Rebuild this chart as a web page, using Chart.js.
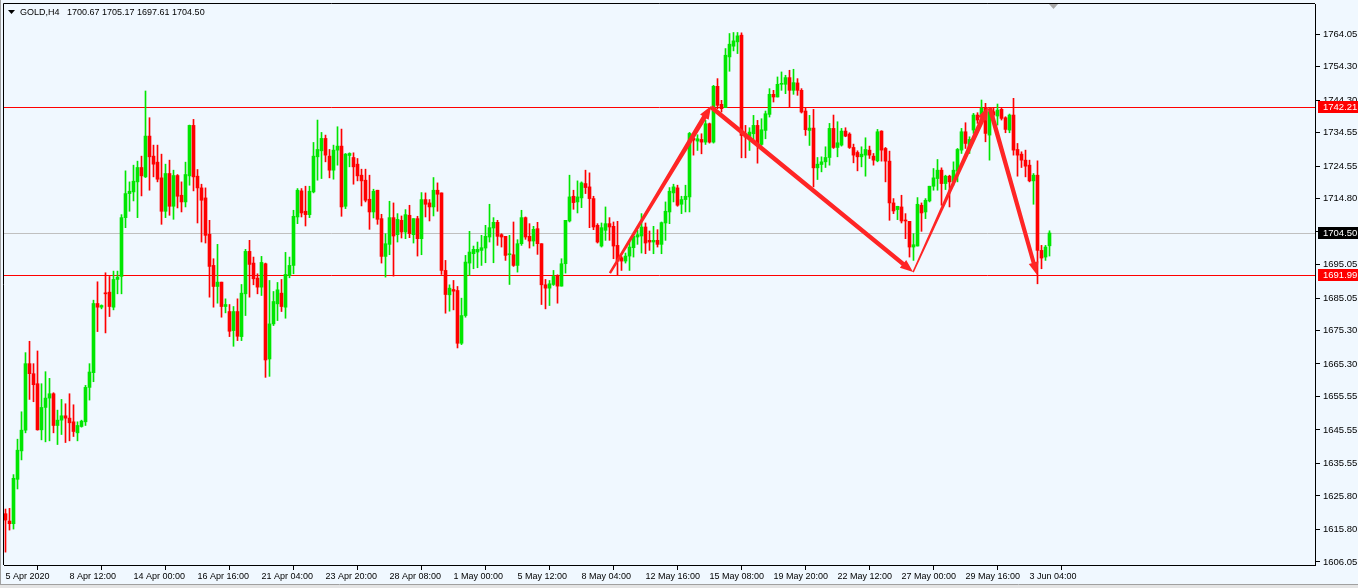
<!DOCTYPE html>
<html>
<head>
<meta charset="utf-8">
<title>GOLD,H4</title>
<script src="https://cdn.jsdelivr.net/npm/chart.js@4.4.1/dist/chart.umd.min.js"></script>
<style>
  html, body { margin: 0; padding: 0; background: #f0f8ff; overflow: hidden; }
  canvas { display: block; }
</style>
</head>
<body>
<canvas id="gold_chart" width="1358" height="588"></canvas>
<script>
// H4 candles, 6 Apr - 3 Jun 2020
const opens = [
  1620.5,1618.3,1617.5,1630.8,1639.3,1645.5,1665.4,1662.4,1659.4,1645.6,
  1652.3,1655.1,1656.4,1646.9,1648.5,1649.8,1649.1,1648.0,1644.7,1646.6,
  1648.0,1658.3,1662.7,1683.4,1682.3,1686.6,1686.8,1682.3,1690.6,1691.5,
  1709.1,1716.3,1716.8,1719.8,1724.1,1721.3,1733.5,1727.5,1725.7,1721.0,
  1711.0,1722.3,1712.5,1721.7,1715.8,1713.8,1721.6,1736.7,1721.5,1718.0,
  1715.0,1704.1,1694.8,1688.5,1689.8,1682.5,1681.0,1675.3,1681.0,1673.5,
  1686.3,1699.0,1695.5,1691.0,1688.3,1695.3,1666.8,1677.3,1683.3,1686.5,
  1682.3,1691.8,1694.8,1709.3,1717.1,1711.0,1710.0,1716.8,1727.3,1729.1,
  1732.8,1727.5,1723.3,1729.3,1730.5,1712.5,1727.7,1727.1,1725.1,1721.8,
  1720.3,1714.6,1710.8,1717.3,1708.8,1697.5,1701.1,1709.1,1704.0,1708.3,
  1704.8,1709.8,1704.0,1708.8,1702.8,1714.5,1713.5,1712.3,1717.3,1716.5,
  1693.3,1686.0,1687.6,1687.3,1671.5,1679.8,1695.5,1698.3,1698.8,1699.3,
  1700.0,1703.3,1706.0,1707.7,1704.0,1703.5,1698.0,1698.0,1694.8,1701.3,
  1709.1,1703.5,1702.1,1705.8,1701.3,1689.0,1688.0,1689.1,1691.6,1688.6,
  1695.3,1708.1,1715.5,1713.8,1715.0,1719.3,1718.3,1714.8,1706.8,1700.6,
  1705.3,1707.3,1706.5,1700.8,1697.1,1696.1,1697.6,1700.1,1703.3,1703.6,
  1706.3,1702.3,1701.8,1702.3,1701.1,1707.5,1710.8,1716.5,1718.0,1713.1,
  1714.5,1715.3,1732.8,1732.0,1732.5,1731.7,1737.2,1731.7,1748.4,1743.0,
  1742.0,1757.2,1760.4,1761.7,1763.7,1734.2,1732.7,1734.2,1736.7,1731.0,
  1735.2,1740.0,1746.0,1745.2,1749.0,1749.0,1751.0,1747.2,1749.4,1747.2,
  1741.0,1735.2,1735.9,1724.0,1725.0,1725.8,1727.1,1735.8,1730.1,1730.8,
  1735.0,1734.1,1730.1,1728.6,1727.3,1727.8,1729.3,1727.5,1726.1,1735.0,
  1729.8,1726.0,1713.5,1711.5,1712.3,1708.3,1708.0,1700.3,1700.6,1712.8,
  1710.8,1714.1,1718.5,1720.8,1723.3,1719.3,1721.5,1719.8,1723.0,1729.3,
  1734.8,1730.3,1735.3,1739.8,1739.8,1741.8,1733.8,1740.8,1739.5,1741.5,
  1739.0,1735.3,1739.8,1729.5,1728.1,1726.3,1724.8,1720.1,1721.8,1699.3,
  1697.3,1700.67
];
const highs = [
  1621.9,1622.1,1632.2,1642.8,1651.0,1668.7,1672.1,1665.4,1669.2,1659.4,
  1663.0,1661.0,1656.7,1651.5,1654.7,1653.4,1656.4,1653.1,1648.0,1648.5,
  1658.9,1665.4,1684.4,1689.9,1683.0,1692.6,1691.5,1693.1,1693.1,1710.0,
  1723.1,1719.8,1724.8,1726.0,1727.5,1747.0,1739.0,1730.8,1730.8,1728.1,
  1725.1,1726.3,1723.3,1722.0,1719.8,1725.7,1736.8,1738.5,1723.5,1719.1,
  1718.0,1708.3,1696.8,1701.1,1689.8,1684.8,1683.1,1682.5,1684.8,1689.1,
  1699.6,1702.3,1697.3,1692.3,1697.5,1695.5,1690.3,1687.0,1689.7,1690.6,
  1698.7,1697.3,1711.3,1717.8,1717.8,1718.5,1718.5,1731.6,1738.3,1734.6,
  1733.8,1729.5,1730.8,1736.3,1735.6,1728.3,1728.5,1728.5,1726.8,1723.6,
  1723.6,1721.8,1717.6,1717.3,1710.1,1704.3,1714.0,1713.5,1710.3,1709.6,
  1711.5,1712.8,1708.8,1709.5,1716.6,1716.5,1714.5,1721.1,1719.5,1716.5,
  1696.3,1689.0,1690.3,1688.5,1685.0,1697.8,1705.0,1700.6,1701.8,1703.8,
  1706.8,1713.1,1709.1,1708.3,1704.3,1703.5,1703.8,1707.8,1702.5,1711.3,
  1709.3,1707.3,1706.5,1707.7,1701.3,1690.6,1690.3,1693.3,1692.0,1696.8,
  1708.3,1721.8,1717.3,1720.1,1719.8,1723.3,1722.5,1715.5,1707.3,1707.5,
  1712.3,1709.1,1707.8,1708.0,1697.5,1698.5,1701.8,1704.5,1705.3,1710.3,
  1707.5,1705.1,1706.5,1705.5,1707.8,1713.8,1718.1,1719.1,1718.8,1715.5,
  1718.8,1734.6,1734.1,1733.9,1734.2,1738.2,1737.4,1748.7,1750.7,1744.2,
  1759.7,1764.2,1764.5,1764.5,1764.4,1736.7,1736.0,1739.7,1738.2,1738.7,
  1741.0,1747.7,1747.2,1751.2,1752.7,1751.7,1753.2,1753.5,1750.7,1747.7,
  1742.0,1739.7,1741.5,1727.1,1727.3,1730.3,1737.3,1739.8,1737.8,1735.8,
  1736.0,1734.5,1731.1,1729.1,1730.3,1733.0,1730.5,1728.3,1735.5,1735.1,
  1730.1,1729.0,1714.8,1712.5,1715.8,1710.3,1708.0,1704.3,1715.1,1713.5,
  1714.8,1718.5,1723.8,1726.5,1724.0,1721.8,1721.8,1725.8,1729.8,1735.8,
  1737.5,1733.3,1740.3,1740.5,1744.3,1743.3,1741.8,1741.8,1743.1,1741.8,
  1739.3,1740.1,1744.8,1731.3,1728.8,1729.3,1726.3,1722.3,1726.1,1700.8,
  1700.8,1705.17
];
const lows = [
  1609.0,1615.6,1615.9,1627.9,1636.6,1644.7,1654.7,1654.0,1645.5,1642.6,
  1642.0,1642.3,1644.7,1641.2,1644.2,1641.8,1642.3,1643.6,1642.3,1646.4,
  1646.9,1654.5,1660.0,1675.0,1681.8,1674.6,1679.5,1681.5,1686.3,1686.3,
  1706.1,1711.0,1714.1,1709.1,1715.6,1721.1,1717.3,1721.3,1719.8,1707.1,
  1709.1,1709.8,1708.6,1712.0,1710.8,1712.3,1718.8,1717.1,1707.5,1701.8,
  1701.5,1685.3,1682.3,1683.5,1679.3,1680.6,1673.5,1670.6,1672.3,1672.3,
  1679.8,1685.3,1689.0,1686.3,1685.8,1661.3,1661.6,1676.8,1678.3,1681.0,
  1679.0,1691.1,1692.3,1707.3,1709.3,1706.6,1709.1,1716.5,1720.3,1720.8,
  1725.8,1721.0,1720.6,1724.8,1709.5,1711.8,1724.3,1719.1,1720.1,1712.6,
  1713.8,1705.6,1709.0,1707.1,1695.5,1691.3,1698.0,1691.6,1701.8,1703.0,
  1702.8,1703.1,1701.5,1697.6,1698.0,1709.3,1708.1,1709.6,1711.0,1692.1,
  1680.5,1681.1,1681.5,1670.1,1671.1,1679.3,1691.8,1693.8,1694.1,1694.8,
  1695.6,1701.8,1695.6,1700.8,1700.3,1696.3,1689.1,1694.5,1692.8,1700.8,
  1702.6,1700.0,1700.6,1698.1,1683.1,1681.8,1682.8,1688.8,1683.5,1688.6,
  1692.5,1707.8,1711.6,1710.5,1712.1,1716.3,1706.1,1705.5,1701.5,1700.3,
  1702.3,1702.3,1696.8,1691.8,1693.3,1695.5,1693.3,1697.3,1701.1,1698.5,
  1698.3,1699.3,1698.3,1700.3,1698.3,1702.3,1707.3,1713.8,1712.5,1710.3,
  1710.8,1710.8,1727.8,1729.2,1728.2,1731.0,1731.4,1731.4,1741.7,1740.7,
  1742.0,1752.9,1759.0,1758.2,1727.0,1727.0,1729.2,1732.2,1725.4,1730.7,
  1732.7,1739.2,1743.7,1745.2,1747.2,1746.2,1742.0,1746.0,1745.7,1740.4,
  1733.7,1730.7,1718.3,1720.5,1722.8,1724.1,1724.8,1729.8,1727.3,1730.5,
  1733.3,1729.8,1725.5,1723.1,1724.3,1721.5,1726.8,1724.8,1725.8,1726.0,
  1719.8,1708.3,1710.3,1708.5,1707.5,1702.8,1697.3,1696.3,1700.6,1705.0,
  1708.8,1713.8,1717.3,1717.3,1712.8,1717.5,1712.3,1718.8,1719.8,1728.3,
  1729.8,1728.3,1734.3,1737.3,1739.3,1731.8,1726.3,1739.3,1736.8,1738.3,
  1734.5,1734.5,1727.8,1721.5,1724.1,1721.3,1719.8,1713.1,1689.3,1693.8,
  1696.3,1697.61
];
const closes = [
  1618.6,1617.5,1631.1,1639.5,1645.5,1665.4,1662.4,1659.1,1645.6,1652.3,
  1655.1,1656.4,1646.9,1648.5,1649.8,1649.1,1647.7,1645.1,1646.9,1648.2,
  1658.3,1662.9,1683.4,1682.3,1682.8,1686.3,1682.5,1690.6,1691.3,1709.1,
  1716.3,1717.0,1720.0,1724.1,1721.6,1733.5,1727.3,1725.1,1720.6,1711.0,
  1722.3,1712.5,1721.7,1715.5,1713.8,1722.0,1736.7,1721.3,1718.0,1714.3,
  1703.8,1694.5,1688.5,1689.8,1682.5,1683.1,1675.1,1681.0,1673.6,1686.5,
  1699.0,1695.1,1690.8,1688.3,1695.7,1666.5,1677.3,1684.0,1687.5,1682.5,
  1692.1,1694.8,1709.5,1717.3,1710.5,1710.0,1717.0,1727.5,1729.5,1732.8,
  1727.8,1723.3,1729.3,1730.5,1712.3,1728.1,1728.3,1724.3,1721.6,1720.1,
  1714.3,1710.8,1717.0,1708.6,1697.5,1701.3,1709.1,1703.6,1708.6,1704.8,
  1710.0,1704.3,1708.8,1702.8,1714.5,1713.1,1712.3,1717.3,1716.1,1693.3,
  1686.1,1688.0,1687.1,1671.5,1679.8,1695.8,1698.8,1699.6,1699.6,1700.1,
  1703.5,1706.1,1707.7,1703.5,1703.3,1697.8,1698.1,1694.8,1701.3,1709.1,
  1703.3,1702.1,1705.6,1701.3,1689.0,1688.0,1689.3,1691.5,1688.6,1695.3,
  1708.3,1715.3,1713.6,1715.3,1719.5,1718.1,1714.8,1706.3,1701.8,1706.1,
  1707.3,1706.3,1700.6,1696.1,1696.1,1697.6,1700.3,1703.5,1704.0,1706.3,
  1701.5,1701.8,1702.3,1701.1,1707.6,1711.0,1717.0,1718.3,1712.8,1714.5,
  1715.5,1734.3,1732.3,1732.7,1731.7,1737.2,1731.7,1748.4,1742.7,1741.7,
  1757.7,1761.0,1762.0,1763.5,1733.7,1733.2,1734.7,1736.7,1731.2,1735.4,
  1740.2,1746.0,1745.2,1749.0,1749.3,1751.0,1747.2,1749.5,1747.2,1740.7,
  1735.4,1735.9,1724.0,1725.1,1725.8,1727.1,1735.8,1730.1,1731.5,1735.0,
  1733.5,1730.1,1727.8,1727.3,1728.1,1729.5,1727.8,1726.3,1734.8,1729.3,
  1726.0,1713.5,1711.1,1712.5,1708.1,1708.1,1700.3,1701.0,1713.1,1710.5,
  1714.3,1718.5,1721.0,1723.3,1719.3,1721.5,1719.8,1723.3,1729.5,1734.8,
  1731.3,1732.5,1739.8,1738.3,1741.8,1734.3,1740.8,1739.8,1741.3,1738.8,
  1735.5,1739.8,1729.3,1727.8,1726.3,1724.5,1720.1,1721.8,1699.3,1697.0,
  1700.3,1704.50
];

// time axis: one label every 16 bars
const tickBars = [0,16,32,48,64,80,96,112,128,144,160,176,192,208,224,240,256];
const tickDates = ['5 Apr 2020','8 Apr 12:00','14 Apr 00:00','16 Apr 16:00','21 Apr 04:00',
  '23 Apr 20:00','28 Apr 08:00','1 May 00:00','5 May 12:00','8 May 04:00','12 May 16:00',
  '15 May 08:00','19 May 20:00','22 May 12:00','27 May 00:00','29 May 16:00','3 Jun 04:00'];

// price axis labels as printed by the terminal
const priceTicks = [1764.05,1754.30,1744.30,1734.55,1724.55,1714.80,1705.05,1695.05,
  1685.05,1675.30,1665.30,1655.55,1645.55,1635.55,1625.80,1615.80,1606.05];

// horizontal levels
const levelLines = [1742.21, 1691.99];

// hand drawn arrows (bar index / price)
const arrowFromBar   = [151.1, 176.4, 226.9, 246.1];
const arrowFromPrice = [1692.5, 1742.2, 1692.8, 1741.9];
const arrowToBar     = [176.4, 226.9, 245.6, 257.9];
const arrowToPrice   = [1742.5, 1692.8, 1742.2, 1691.9];

const symbol = 'GOLD,H4';
const upColor = '#00e600';
const downColor = '#ff0000';
const arrowColor = '#ff2525';
const arrowWidths = [[2.5, 5], [4.5, 4.5], [1.5, 5], [4.5, 4]];
const axisFont = 'Liberation Sans, Arial, sans-serif';

const last = closes.length - 1;
const barIdx = closes.map((c, i) => i);
const candleColors = barIdx.map(i => closes[i] >= opens[i] ? upColor : downColor);

const mtDecor = {
    id: 'mtDecor',
    beforeDraw(chart) {
        const ctx = chart.ctx;
        ctx.save();
        ctx.fillStyle = '#f0f8ff';
        ctx.fillRect(0, 0, chart.width, chart.height);
        ctx.restore();
    },
    beforeDatasetsDraw(chart) {
        const {ctx, chartArea: {left, right}, scales: {y}} = chart;
        ctx.save();
        ctx.lineWidth = 1;
        const level = (v, color) => {
            const py = Math.round(y.getPixelForValue(v)) + 0.5;
            ctx.strokeStyle = color;
            ctx.beginPath();
            ctx.moveTo(left, py);
            ctx.lineTo(right, py);
            ctx.stroke();
        };
        level(closes[last], '#c0c0c0');
        levelLines.forEach(v => level(v, '#ff0000'));
        ctx.restore();
    },
    afterDatasetsDraw(chart) {
        const {ctx, scales: {x, y}} = chart;
        ctx.save();
        ctx.fillStyle = arrowColor;
        arrowFromBar.forEach((b, k) => {
            const x0 = x.getPixelForValue(b), y0 = y.getPixelForValue(arrowFromPrice[k]);
            const x1 = x.getPixelForValue(arrowToBar[k]), y1 = y.getPixelForValue(arrowToPrice[k]);
            const len = Math.hypot(x1 - x0, y1 - y0);
            const dx = (x1 - x0) / len, dy = (y1 - y0) / len;
            const nx = -dy, ny = dx;
            const headLen = 13, headW = 10;
            const bx = x1 - dx * headLen, by = y1 - dy * headLen;
            const w0 = arrowWidths[k][0] / 2, w1 = arrowWidths[k][1] / 2;
            ctx.beginPath();
            ctx.moveTo(x0 + nx * w0, y0 + ny * w0);
            ctx.lineTo(bx + nx * w1, by + ny * w1);
            ctx.lineTo(bx + nx * headW / 2, by + ny * headW / 2);
            ctx.lineTo(x1, y1);
            ctx.lineTo(bx - nx * headW / 2, by - ny * headW / 2);
            ctx.lineTo(bx - nx * w1, by - ny * w1);
            ctx.lineTo(x0 - nx * w0, y0 - ny * w0);
            ctx.closePath();
            ctx.fill();
        });
        ctx.restore();
    },
    afterDraw(chart) {
        const {ctx, chartArea: {left, top, right, bottom}, scales: {y}} = chart;
        ctx.save();

        // plot frame (top / left; right and bottom come from the axes)
        ctx.strokeStyle = '#000';
        ctx.lineWidth = 1;
        ctx.beginPath();
        ctx.moveTo(left - 0.5, bottom);
        ctx.lineTo(left - 0.5, top - 0.5);
        ctx.lineTo(right, top - 0.5);
        ctx.stroke();

        // window edges
        ctx.strokeStyle = '#a0a0a0';
        ctx.beginPath();
        ctx.moveTo(0.5, 0);
        ctx.lineTo(0.5, chart.height);
        ctx.stroke();
        ctx.fillStyle = '#e4e4e4';
        ctx.fillRect(0, 585, chart.width, chart.height - 585);
        ctx.beginPath();
        ctx.moveTo(0, 584.5);
        ctx.lineTo(chart.width, 584.5);
        ctx.stroke();

        // chart shift marker
        ctx.fillStyle = '#a8a8a8';
        ctx.beginPath();
        ctx.moveTo(1049, top);
        ctx.lineTo(1058, top);
        ctx.lineTo(1053.5, top + 5);
        ctx.closePath();
        ctx.fill();

        // price boxes on the right scale
        ctx.font = '9.5px ' + axisFont;
        ctx.textBaseline = 'middle';
        ctx.textAlign = 'left';
        const box = (v, fill) => {
            const py = Math.round(y.getPixelForValue(v));
            ctx.fillStyle = fill;
            ctx.fillRect(right + 3, py - 6, chart.width - right - 3, 12);
            ctx.fillStyle = '#fff';
            ctx.fillText(v.toFixed(2), right + 8, py + 0.5);
        };
        levelLines.forEach(v => box(v, '#ff0000'));
        box(closes[last], '#000');

        // title
        ctx.fillStyle = '#000';
        ctx.beginPath();
        ctx.moveTo(8, 10);
        ctx.lineTo(15, 10);
        ctx.lineTo(11.5, 14);
        ctx.closePath();
        ctx.fill();
        ctx.font = '9px ' + axisFont;
        ctx.fillText(symbol, 20, 13);
        const ohlc = [opens[last], highs[last], lows[last], closes[last]].map(v => v.toFixed(2)).join(' ');
        ctx.fillText(ohlc, 67, 13);
        ctx.restore();
    }
};

const ctx = document.getElementById('gold_chart').getContext('2d');
const goldChart = new Chart(ctx, {
    type: 'bar',
    data: {
        datasets: [{
            label: 'wick',
            data: barIdx.map(i => ({x: i, y: [lows[i], highs[i]]})),
            backgroundColor: candleColors,
            barThickness: 1,
            grouped: false,
            borderWidth: 0
        }, {
            label: 'body',
            data: barIdx.map(i => ({x: i, y: [opens[i], closes[i]]})),
            backgroundColor: candleColors,
            barThickness: 3,
            grouped: false,
            borderWidth: 0,
            minBarLength: 1
        }]
    },
    options: {
        responsive: false,
        devicePixelRatio: 1,
        animation: false,
        layout: { padding: { left: 4, top: 4, right: 0, bottom: 0 } },
        plugins: {
            legend: { display: false },
            tooltip: { enabled: false }
        },
        scales: {
            x: {
                type: 'linear',
                min: -0.375,
                max: 327.375,
                offset: false,
                afterBuildTicks: s => { s.ticks = tickBars.map(v => ({value: v})); },
                afterFit: s => { s.height = 23; s.paddingLeft = 0; s.paddingRight = 0; },
                ticks: {
                    callback: (v, i) => tickDates[i],
                    font: { family: axisFont, size: 9 },
                    color: '#000',
                    align: 'start',
                    maxRotation: 0,
                    autoSkip: false,
                    padding: 1
                },
                grid: { drawOnChartArea: false, tickLength: 5, color: '#000' },
                border: { color: '#000' }
            },
            y: {
                type: 'linear',
                position: 'right',
                min: 1605.15,
                max: 1773.03,
                afterBuildTicks: s => { s.ticks = priceTicks.map(v => ({value: v})); },
                afterFit: s => { s.width = 43; s.paddingTop = 0; s.paddingBottom = 0; },
                ticks: {
                    callback: v => v.toFixed(2),
                    font: { family: axisFont, size: 9.5 },
                    color: '#000',
                    padding: 3,
                    autoSkip: false
                },
                grid: { drawOnChartArea: false, tickLength: 5, color: '#000' },
                border: { color: '#000' }
            }
        }
    },
    plugins: [mtDecor]
});
</script>
</body>
</html>
